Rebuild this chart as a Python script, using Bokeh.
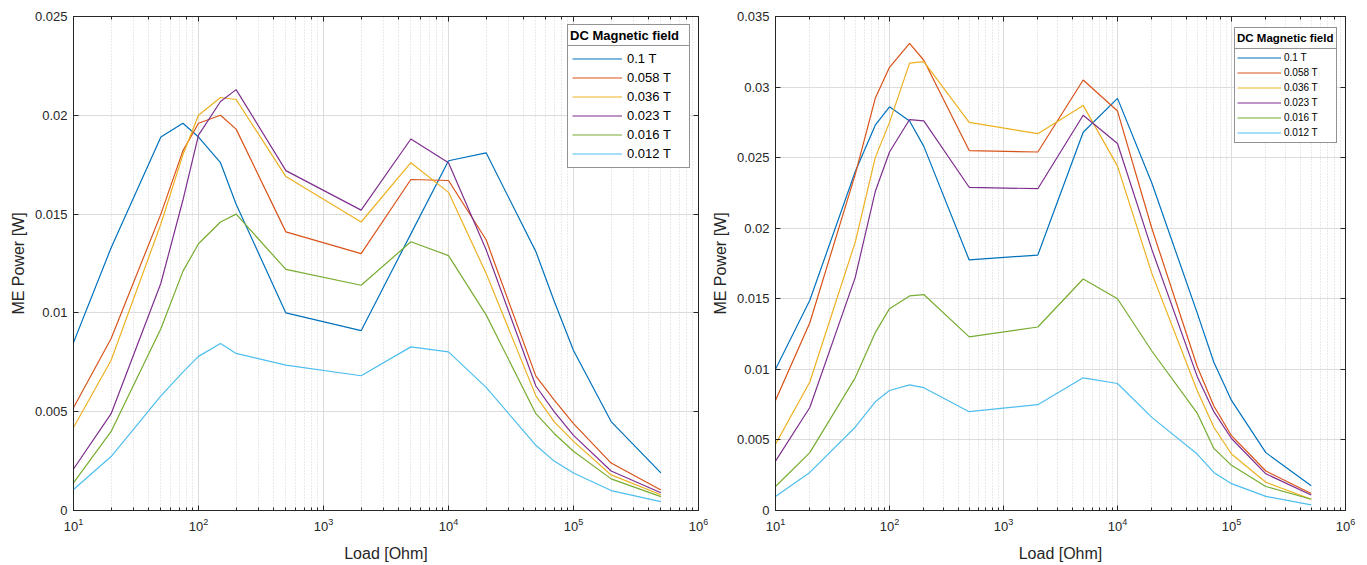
from bokeh.plotting import figure
from bokeh.layouts import row
from bokeh.models import (Legend, LegendItem, LogAxis, LinearAxis, FixedTicker,
                          LogTicker, CustomJSTickFormatter, Range1d)
from bokeh.embed import file_html
from bokeh.resources import INLINE

# ---------------- data ----------------
load_ohm = [10, 20, 50, 75, 100, 150, 200, 500, 2000, 5000, 10000, 20000,
            50000, 70000, 100000, 200000, 500000]
field_labels = ["0.1 T", "0.058 T", "0.036 T", "0.023 T", "0.016 T", "0.012 T"]
line_colors = ["#0072BD", "#D95319", "#EDB120", "#7E2F8E", "#77AC30", "#4DBEEE"]

# left panel (W)
left_01 = [0.0085, 0.0133, 0.0189, 0.0196, 0.0189, 0.0176, 0.0155, 0.0100, 0.0091,
           0.0140, 0.0177, 0.0181, 0.0131, 0.0106, 0.0081, 0.0045, 0.0019]
left_0058 = [0.0052, 0.0087, 0.0150, 0.0182, 0.0196, 0.0200, 0.0193, 0.0141, 0.0130,
             0.01675, 0.0167, 0.0137, 0.0068, 0.0056, 0.0044, 0.0024, 0.00104]
left_0036 = [0.0042, 0.0076, 0.0145, 0.0180, 0.0200, 0.0209, 0.0208, 0.0169, 0.0146,
             0.0176, 0.0161, 0.0120, 0.0058, 0.0045, 0.0035, 0.0018, 0.0008]
left_0023 = [0.0021, 0.0049, 0.0115, 0.0157, 0.0190, 0.0207, 0.0213, 0.0172, 0.0152,
             0.0188, 0.0176, 0.0132, 0.0063, 0.0050, 0.0038, 0.0020, 0.0009]
left_0016 = [0.0014, 0.0040, 0.0092, 0.0121, 0.0135, 0.0146, 0.0150, 0.0122, 0.0114,
             0.0136, 0.0129, 0.0099, 0.0049, 0.0039, 0.0030, 0.0016, 0.0007]
left_0012 = [0.00106, 0.00273, 0.0058, 0.0070, 0.0078, 0.00845, 0.00795, 0.00736, 0.00682,
             0.00828, 0.00803, 0.00623, 0.0033, 0.0025, 0.0019, 0.00101, 0.00045]

# right panel (W)
right_01 = [0.0100, 0.0149, 0.0240, 0.0273, 0.0286, 0.0276, 0.0258, 0.01775, 0.0181,
            0.0268, 0.0292, 0.0232, 0.0140, 0.0105, 0.0078, 0.0041, 0.00176]
right_0058 = [0.0078, 0.0133, 0.0238, 0.0292, 0.0314, 0.0331, 0.0319, 0.0255, 0.0254,
              0.0305, 0.0283, 0.0200, 0.0102, 0.0074, 0.0053, 0.0028, 0.0012]
right_0036 = [0.0047, 0.0091, 0.0190, 0.0250, 0.0275, 0.0317, 0.0318, 0.0275, 0.0267,
              0.0287, 0.0244, 0.0168, 0.0085, 0.0059, 0.0040, 0.0020, 0.0008]
right_0023 = [0.0035, 0.0073, 0.0165, 0.0226, 0.0254, 0.0277, 0.0276, 0.0229, 0.0228,
              0.0280, 0.0260, 0.0185, 0.0095, 0.0070, 0.0051, 0.0026, 0.0011]
right_0016 = [0.0017, 0.0041, 0.0094, 0.0126, 0.0143, 0.0152, 0.0153, 0.0123, 0.0130,
              0.0164, 0.0150, 0.0113, 0.0069, 0.0044, 0.0032, 0.0017, 0.0008]
right_0012 = [0.0010, 0.0027, 0.0059, 0.0077, 0.0085, 0.0089, 0.0087, 0.0070, 0.0075,
              0.0094, 0.0090, 0.0066, 0.0040, 0.0027, 0.0019, 0.0010, 0.0004]

left_ticks = [0, 0.005, 0.01, 0.015, 0.02, 0.025]
right_ticks = [0, 0.005, 0.01, 0.015, 0.02, 0.025, 0.03, 0.035]

FONT = "Liberation Sans"
DARK = "#262626"
FIG_H = 564


def style_axis(ax, hide_labels=False):
    ax.major_tick_in = 5
    ax.major_tick_out = 0
    ax.minor_tick_in = 3
    ax.minor_tick_out = 0
    ax.axis_line_color = DARK
    ax.major_tick_line_color = DARK
    ax.minor_tick_line_color = DARK
    ax.major_label_text_color = DARK
    ax.major_label_text_font = FONT
    ax.major_label_text_font_size = "13px"
    ax.axis_label_text_font = FONT
    ax.axis_label_text_font_size = "16px"
    ax.axis_label_text_font_style = "normal"
    ax.axis_label_text_color = DARK
    ax.major_label_standoff = 6
    ax.axis_label_standoff = 5
    if hide_labels:
        ax.major_label_text_font_size = "0px"
        ax.major_label_standoff = 0
        ax.formatter = CustomJSTickFormatter(code="return ''")


def make_panel(series, ymax, yticks, width, bl, br, bt, leg):
    p = figure(width=width, height=FIG_H, x_axis_type="log",
               x_range=Range1d(10, 1e6), y_range=Range1d(0, ymax),
               output_backend="svg", toolbar_location=None,
               min_border_left=bl, min_border_right=br,
               min_border_top=bt, min_border_bottom=FIG_H - 510,
               x_axis_label="Load [Ohm]", y_axis_label="ME Power [W]")
    p.background_fill_color = "white"
    p.border_fill_color = "white"
    p.outline_line_color = DARK
    p.outline_line_width = 1

    p.yaxis.ticker = FixedTicker(ticks=yticks)
    p.yaxis.formatter = CustomJSTickFormatter(
        code="return String(Number(tick.toFixed(4)))")
    for ax in p.xaxis + p.yaxis:
        style_axis(ax)
    for ax in p.xaxis:
        ax.major_label_standoff = 7
        ax.axis_label_standoff = 11

    top = LogAxis(ticker=LogTicker())
    style_axis(top, hide_labels=True)
    p.add_layout(top, "above")
    right = LinearAxis(ticker=FixedTicker(ticks=yticks))
    style_axis(right, hide_labels=True)
    p.add_layout(right, "right")

    p.xgrid.grid_line_color = "#dcdcdc"
    p.xgrid.minor_grid_line_color = "#d4d4d4"
    p.xgrid.minor_grid_line_dash = "1 2"
    p.ygrid.grid_line_color = "#dcdcdc"

    renderers = []
    for vals, col in zip(series, line_colors):
        r = p.line(x=load_ohm, y=vals, line_color=col, line_width=1.2)
        renderers.append(r)

    items = Legend(items=[LegendItem(label=lab, renderers=[r])
                          for lab, r in zip(field_labels, renderers)],
                   location=leg["items_loc"],
                   padding=leg["pad"], spacing=0, margin=0,
                   glyph_width=leg["gw"], glyph_height=leg["ih"],
                   label_height=leg["ih"], label_width=leg["lw"],
                   label_standoff=leg["ls"],
                   label_text_font=FONT, label_text_font_size=leg["fs"],
                   label_text_color="#000000",
                   border_line_color=DARK, border_line_width=1,
                   background_fill_color="white", background_fill_alpha=1)
    title = Legend(items=[LegendItem(label="DC Magnetic field", renderers=[renderers[0]])],
                   location=leg["title_loc"],
                   padding=2, spacing=0, margin=0,
                   glyph_width=0, glyph_height=leg["th"],
                   label_height=leg["th"], label_width=leg["tw"],
                   label_standoff=0,
                   label_text_font=FONT, label_text_font_size=leg["tfs"],
                   label_text_font_style="bold", label_text_color="#000000",
                   border_line_color=DARK, border_line_width=1,
                   background_fill_color="white", background_fill_alpha=1)
    p.add_layout(items, "center")
    p.add_layout(title, "center")
    return p


left_series = [left_01, left_0058, left_0036, left_0023, left_0016, left_0012]
right_series = [right_01, right_0058, right_0036, right_0023, right_0016, right_0012]

# left frame: x 73..698, y 16..510 ; right frame: x 773..1345, y 15..510
p1 = make_panel(left_series, 0.025, left_ticks, 708, 73, 10, 16,
                dict(items_loc=(494, 342), title_loc=(494, 464), pad=4, gw=50,
                     ih=19, lw=58, ls=5, fs="13px", th=16, tw=117, tfs="13px"))
p2 = make_panel(right_series, 0.035, right_ticks, 658, 65, 21, 15,
                dict(items_loc=(459, 367), title_loc=(459, 461), pad=2, gw=44,
                     ih=15, lw=50, ls=3, fs="10px", th=16, tw=97, tfs="11.5px"))

layout = row(p1, p2, spacing=0)
open("out.html", "w").write(file_html(layout, INLINE))
